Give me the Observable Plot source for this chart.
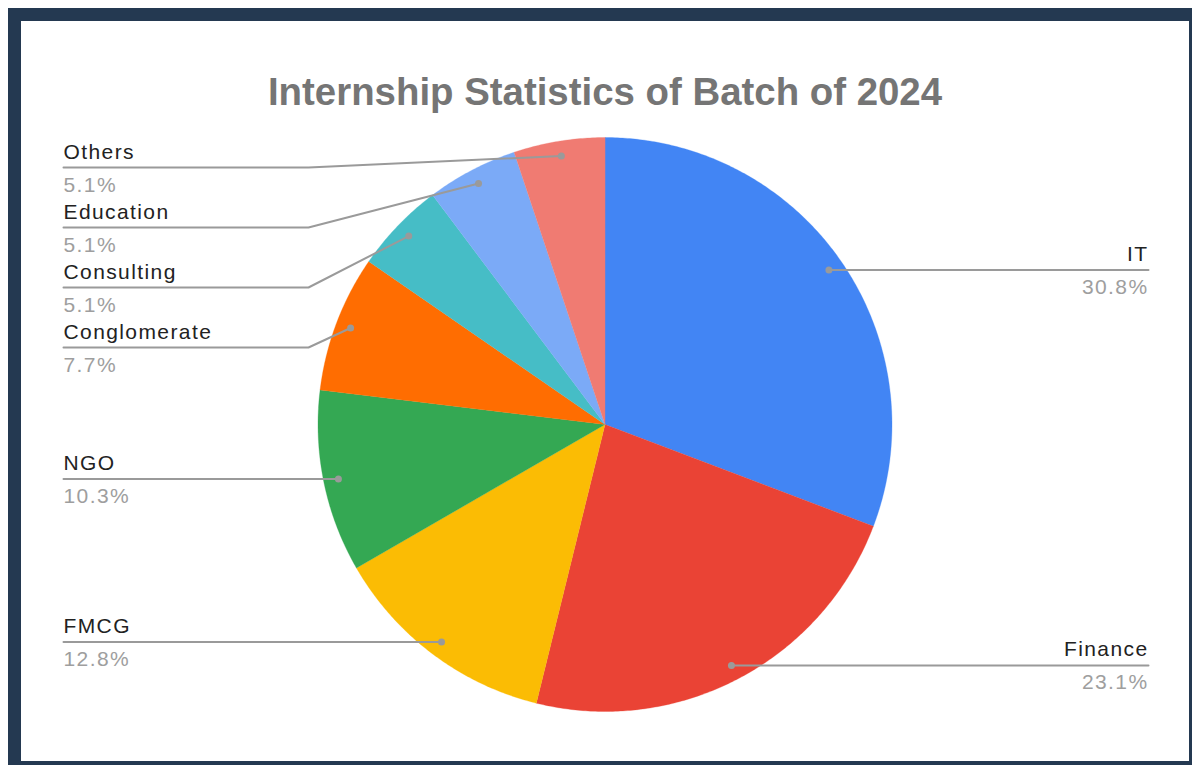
<!DOCTYPE html>
<html>
<head>
<meta charset="utf-8">
<script src="https://cdn.jsdelivr.net/npm/d3@7"></script>
<script src="https://cdn.jsdelivr.net/npm/@observablehq/plot@0.6"></script>
<style>
  html, body { margin: 0; padding: 0; background: #fff; overflow: hidden; }
  #frame {
    position: absolute; left: 8px; top: 8px;
    width: 1168px; height: 740px;
    border: 13px solid #243951; background: #fff;
  }
  #title {
    position: absolute; left: 0; top: 52px; width: 100%;
    text-align: center; font-family: "Liberation Sans", Arial, sans-serif;
    font-weight: bold; font-size: 38.4px; line-height: 1; color: #757575;
  }
  #chart { position: absolute; left: 0; top: 100px; }
</style>
</head>
<body>
<div id="frame">
  <div id="title">Internship Statistics of Batch of 2024</div>
  <div id="chart"></div>
</div>
<script>
// ---- data ----
const categories = ["IT", "Finance", "FMCG", "NGO", "Conglomerate", "Consulting", "Education", "Others"];
const counts = [12, 9, 5, 4, 3, 2, 2, 2];
const colors = ["#4285F4", "#EA4335", "#FBBC04", "#34A853", "#FF6D01", "#46BDC6", "#7BAAF7", "#F07B72"];

// ---- layout ----
const W = 1168, H = 640;
const CX = 583.5, CY = 303, R = 287;
const DOT_FRAC = 0.948;
const LEFT_END = 42, LEFT_ELBOW = 287, RIGHT_END = 1127, RIGHT_ELBOW = 880;
const LABEL_GAP = 60, LABEL_MIN_Y = 46;

const px2ux = px => (px - CX) / R;
const py2uy = py => (CY - py) / R;

const total = d3.sum(counts);
const arcs = d3.pie().sort(null).value(d => d)(counts);

// slice polygons (unit circle coordinates, y up, angle clockwise from top)
const slicePts = [];
arcs.forEach((p, i) => {
  const name = categories[i];
  slicePts.push({name, x: 0, y: 0});
  const span = p.endAngle - p.startAngle;
  const n = Math.max(2, Math.ceil(span / (Math.PI / 360)));
  for (let k = 0; k <= n; k++) {
    const a = p.startAngle + span * k / n;
    slicePts.push({name, x: Math.sin(a), y: Math.cos(a)});
  }
});

// labels
const labels = arcs.map((p, i) => {
  const a = (p.startAngle + p.endAngle) / 2;
  const dx = DOT_FRAC * Math.sin(a), dy = DOT_FRAC * Math.cos(a);
  return {
    name: categories[i],
    pct: (counts[i] / total * 100).toFixed(1) + "%",
    dx, dy,
    dotPy: CY - dy * R,
    side: Math.sin(a) >= 0 ? "right" : "left"
  };
});
for (const side of ["left", "right"]) {
  const list = labels.filter(d => d.side === side).sort((a, b) => a.dotPy - b.dotPy);
  let prev = LABEL_MIN_Y - LABEL_GAP;
  for (const d of list) {
    const ly = Math.max(d.dotPy, prev + LABEL_GAP);
    prev = ly;
    d.ty = py2uy(ly);
    d.tx = px2ux(side === "left" ? LEFT_END : RIGHT_END);
    d.ex = px2ux(side === "left" ? LEFT_ELBOW : RIGHT_ELBOW);
  }
}
const leaderPts = labels.flatMap(d => [
  {name: d.name, x: d.dx, y: d.dy},
  {name: d.name, x: d.ex, y: d.ty},
  {name: d.name, x: d.tx, y: d.ty}
]);
const leftLabels = labels.filter(d => d.side === "left");
const rightLabels = labels.filter(d => d.side === "right");

const chart = Plot.plot({
  width: W, height: H, margin: 0,
  x: {domain: [px2ux(0), px2ux(W)], range: [0, W], axis: null},
  y: {domain: [py2uy(H), py2uy(0)], range: [H, 0], axis: null},
  color: {domain: categories, range: colors},
  style: {fontFamily: "'Liberation Sans', Arial, sans-serif", letterSpacing: "1.4px", background: "transparent", overflow: "visible"},
  marks: [
    Plot.line(slicePts, {x: "x", y: "y", z: "name", fill: "name", stroke: "name", strokeWidth: 0.3, curve: "linear-closed"}),
    Plot.line(leaderPts, {x: "x", y: "y", z: "name", stroke: "#9a9a9a", strokeWidth: 2, curve: "linear"}),
    Plot.dot(labels, {x: "dx", y: "dy", r: 3.5, fill: "#9a9a9a", stroke: null}),
    Plot.text(leftLabels, {x: "tx", y: "ty", text: "name", textAnchor: "start", lineAnchor: "bottom", dy: -9, fontSize: 21, fill: "#222"}),
    Plot.text(leftLabels, {x: "tx", y: "ty", text: "pct", textAnchor: "start", lineAnchor: "bottom", dy: 24, fontSize: 21, fill: "#9e9e9e"}),
    Plot.text(rightLabels, {x: "tx", y: "ty", text: "name", textAnchor: "end", lineAnchor: "bottom", dy: -9, fontSize: 21, fill: "#222"}),
    Plot.text(rightLabels, {x: "tx", y: "ty", text: "pct", textAnchor: "end", lineAnchor: "bottom", dy: 24, fontSize: 21, fill: "#9e9e9e"})
  ]
});
document.getElementById("chart").appendChild(chart);
</script>
</body>
</html>
